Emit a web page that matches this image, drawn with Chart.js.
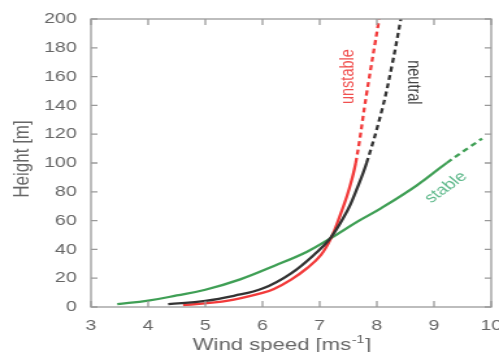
<!DOCTYPE html>
<html>
<head>
<meta charset="utf-8">
<script src="https://cdn.jsdelivr.net/npm/chart.js@4.4.1/dist/chart.umd.min.js"></script>
<style>
  html, body { margin: 0; padding: 0; background: #fff; overflow: hidden; }
  /* el lienzo se dibuja angosto y se estira en horizontal */
  #grafico { display: block; transform: scaleX(1.2995); transform-origin: 0 0; }
</style>
</head>
<body>
<canvas id="grafico" width="384" height="352"></canvas>
<script>
// Perfiles de viento: velocidad [m/s] y altura [m] de cada curva
const velocidadNeutral = [4.35, 5.0, 5.5, 6.0, 6.5, 6.96, 7.2, 7.49, 7.64, 7.82, 8.09, 8.26, 8.42]
const alturaNeutral    = [2, 4.3, 7.8, 12.8, 23.4, 38.4, 48.5, 67.4, 81, 100, 137, 167, 200]

const velocidadInestable = [4.61, 5.0, 5.5, 6.0, 6.2, 6.5, 6.78, 7.02, 7.2, 7.36, 7.5, 7.63, 7.82, 8.04]
const alturaInestable    = [1.4, 2.5, 5.2, 9.8, 12.5, 19, 27, 36, 48, 64, 80, 100, 148, 200]

const velocidadEstable = [3.46, 4.0, 4.5, 5.0, 5.61, 6.2, 6.78, 7.19, 7.66, 8.07, 8.7, 9.22, 9.84]
const alturaEstable    = [2, 4.4, 8, 12, 19.2, 28.5, 38.4, 47.7, 59.3, 68.5, 84.5, 100, 117]

// Nombres de cada curva, escritos junto a ellas (posicion en unidades de los ejes)
const etiquetas = [
  { texto: 'unstable', x: 7.49, y: 160, angulo: -90, color: '#f0504f' },
  { texto: 'neutral',  x: 8.63, y: 156, angulo: 90,  color: '#454545' },
  { texto: 'stable',   x: 9.21, y: 83,  angulo: -43, color: '#5db88a' }
]

const fuente = 'Liberation Sans, Arial, sans-serif'
const colorTexto = '#666'

const puntos = (xs, ys) => xs.map((v, i) => ({ x: v, y: ys[i] }))

// sobre los 100 m la curva pasa a trazo discontinuo
const trazo = ctx => ctx.p0.parsed.y >= 99.9 ? [5, 3.5] : undefined

const curva = (label, data, color) => ({
  label: label,
  data: data,
  borderColor: color,
  borderWidth: 2.3,
  pointRadius: 0,
  tension: 0.4,
  segment: { borderDash: trazo }
})

// Marco con marcas hacia adentro, nombres de curvas y titulos de ejes
const marco = {
  id: 'marco',
  afterDatasetsDraw(chart) {
    const { ctx, chartArea: a, scales: { x, y } } = chart
    ctx.save()
    ctx.strokeStyle = '#9a9a9a'
    ctx.lineWidth = 1.3
    ctx.strokeRect(a.left, a.top, a.right - a.left, a.bottom - a.top)
    ctx.beginPath()
    x.ticks.forEach(t => {
      const px = x.getPixelForValue(t.value)
      ctx.moveTo(px, a.bottom); ctx.lineTo(px, a.bottom - 6)
      ctx.moveTo(px, a.top); ctx.lineTo(px, a.top + 6)
    })
    y.ticks.forEach(t => {
      const py = y.getPixelForValue(t.value)
      ctx.moveTo(a.left, py); ctx.lineTo(a.left + 5, py)
      ctx.moveTo(a.right, py); ctx.lineTo(a.right - 5, py)
    })
    ctx.stroke()

    ctx.textAlign = 'center'
    ctx.textBaseline = 'middle'
    etiquetas.forEach(e => {
      ctx.save()
      ctx.translate(x.getPixelForValue(e.x), y.getPixelForValue(e.y))
      ctx.rotate(e.angulo * Math.PI / 180)
      ctx.fillStyle = e.color
      ctx.font = '14.5px ' + fuente
      ctx.fillText(e.texto, 0, 0)
      ctx.restore()
    })

    // titulo del eje y
    ctx.fillStyle = colorTexto
    ctx.save()
    ctx.translate(17, 159)
    ctx.rotate(-Math.PI / 2)
    ctx.font = '17px ' + fuente
    ctx.fillText('Height [m]', 0, 0)
    ctx.restore()

    // titulo del eje x con exponente
    const base = 'Wind speed [ms', sup = '-1', cierre = ']'
    ctx.font = '17px ' + fuente
    const wBase = ctx.measureText(base).width
    const wCierre = ctx.measureText(cierre).width
    ctx.font = '11px ' + fuente
    const wSup = ctx.measureText(sup).width
    let xt = 217 - (wBase + wSup + wCierre + 1) / 2
    const yt = 350
    ctx.textAlign = 'left'
    ctx.textBaseline = 'alphabetic'
    ctx.font = '17px ' + fuente
    ctx.fillText(base, xt, yt)
    xt += wBase + 0.5
    ctx.font = '11px ' + fuente
    ctx.fillText(sup, xt, yt - 7)
    xt += wSup + 0.5
    ctx.font = '17px ' + fuente
    ctx.fillText(cierre, xt, yt)
    ctx.restore()
  }
}

const ejes = {
  x: {
    type: 'linear', min: 3, max: 10,
    ticks: { stepSize: 1, padding: 10, color: colorTexto, font: { family: fuente, size: 15 } },
    grid: { display: false, drawTicks: false },
    border: { display: false },
    afterFit: s => { s.height = 45; s.paddingLeft = 0; s.paddingRight = 0 }
  },
  y: {
    type: 'linear', min: 0, max: 200,
    ticks: { stepSize: 20, padding: 11, color: colorTexto, font: { family: fuente, size: 15 } },
    grid: { display: false, drawTicks: false },
    border: { display: false },
    afterFit: s => { s.width = 70; s.paddingTop = 0; s.paddingBottom = 0 }
  }
}

const grafico = new Chart(document.getElementById('grafico'), {
  type: 'line',
  data: {
    datasets: [
      curva('neutral', puntos(velocidadNeutral, alturaNeutral), '#333333'),
      curva('unstable', puntos(velocidadInestable, alturaInestable), '#f23a3a'),
      curva('stable', puntos(velocidadEstable, alturaEstable), '#3f9f55')
    ]
  },
  options: {
    responsive: false,
    animation: false,
    layout: { padding: { top: 19, right: 6, bottom: 0, left: 0 } },
    plugins: { legend: { display: false }, tooltip: { enabled: false } },
    scales: ejes
  },
  plugins: [marco]
})
</script>
</body>
</html>
